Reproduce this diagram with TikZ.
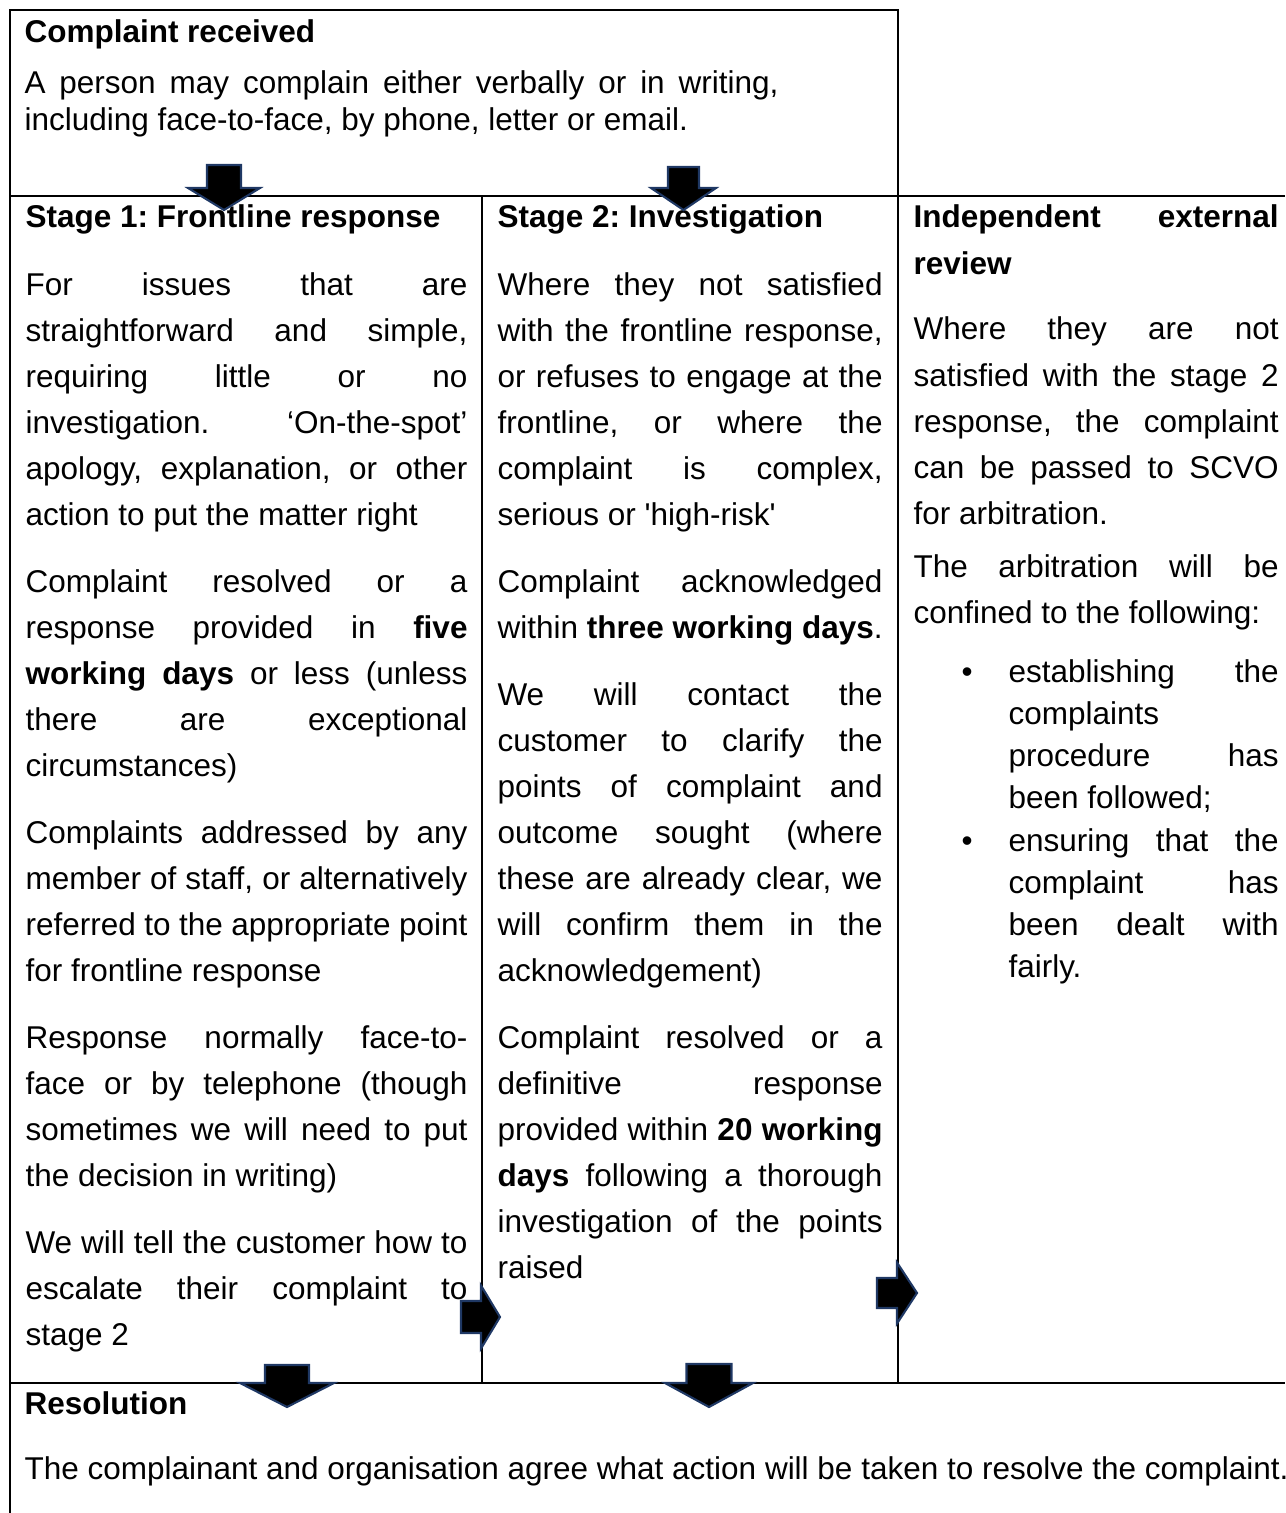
\documentclass[tikz,border=0pt]{standalone}
\usepackage{fontspec}
\setmainfont{Liberation Sans}
\frenchspacing
\tolerance=10000
\hbadness=10000
\hyphenpenalty=10000
\exhyphenpenalty=10000
\definecolor{arrowedge}{RGB}{31,56,100}
\newcommand{\paragap}{\par\vspace{8pt}}
\tikzset{
  gridline/.style={
    draw=black,
    line width=0.6pt
  },
  celltext/.style={
    anchor=base west,
    inner sep=0pt,
    align=justify,
    font=\fontsize{12}{17.53}\selectfont
  },
  listtext/.style={
    celltext,
    font=\fontsize{12}{16.12}\selectfont
  },
  blockarrow/.style={
    fill=black,
    draw=arrowedge,
    line width=0.8pt,
    line join=miter
  }
}

\begin{document}
\begin{tikzpicture}[x=0.381pt,y=-0.381pt]

  \useasboundingbox (0,0) rectangle (1285,1513);

  % Table rules: the first cell, the three stage cells and the last cell.
  \draw[gridline] (10,196) -- (10,10) -- (898,10) -- (898,196);
  \draw[gridline] (10,196) -- (1285,196);
  \draw[gridline] (10,196) -- (10,1513);
  \draw[gridline] (482,196) -- (482,1383);
  \draw[gridline] (898,196) -- (898,1383);
  \draw[gridline] (10,1383) -- (1285,1383);

  % First cell.
  \node[celltext] (received) at (24,43) {\textbf{Complaint received}};
  \node[celltext, text width=287.3pt, font=\fontsize{12}{14.1}\selectfont]
    (receivedtext) at (24,94)
    {A person may complain either verbally or in writing,\linebreak
     including face-to-face, by phone, letter or email.};

  % Stage 1 column.
  \node[celltext, text width=168.4pt] (stageone) at (25,228) {%
    \textbf{Stage 1: Frontline response}\paragap
    For issues that are\linebreak
    straightforward and simple,\linebreak
    requiring little or no\linebreak
    investigation. ‘On-the-spot’\linebreak
    apology, explanation, or other\linebreak
    action to put the matter right\paragap
    Complaint resolved or a\linebreak
    response provided in \textbf{five}\linebreak
    \textbf{working days} or less (unless\linebreak
    there are exceptional\linebreak
    circumstances)\paragap
    Complaints addressed by any\linebreak
    member of staff, or alternatively\linebreak
    referred to the appropriate point\linebreak
    for frontline response\paragap
    Response normally face-to-\linebreak
    face or by telephone (though\linebreak
    sometimes we will need to put\linebreak
    the decision in writing)\paragap
    We will tell the customer how to\linebreak
    escalate their complaint to\linebreak
    stage 2};

  % Stage 2 column.
  \node[celltext, text width=146.7pt] (stagetwo) at (497,228) {%
    \textbf{Stage 2: Investigation}\paragap
    Where they not satisfied\linebreak
    with the frontline response,\linebreak
    or refuses to engage at the\linebreak
    frontline, or where the\linebreak
    complaint is complex,\linebreak
    serious or \textquotesingle high-risk\textquotesingle\paragap
    Complaint acknowledged\linebreak
    within \textbf{three working days}.\paragap
    We will contact the\linebreak
    customer to clarify the\linebreak
    points of complaint and\linebreak
    outcome sought (where\linebreak
    these are already clear, we\linebreak
    will confirm them in the\linebreak
    acknowledgement)\paragap
    Complaint resolved or a\linebreak
    definitive response\linebreak
    provided within \textbf{20 working}\linebreak
    \textbf{days} following a thorough\linebreak
    investigation of the points\linebreak
    raised};

  % External review column.
  \node[celltext, text width=139.1pt] (reviewhead) at (913,228)
    {\textbf{Independent external\linebreak review}};
  \node[celltext, text width=139.1pt] (reviewwhere) at (913,340) {%
    Where they are not\linebreak
    satisfied with the stage 2\linebreak
    response, the complaint\linebreak
    can be passed to SCVO\linebreak
    for arbitration.};
  \node[celltext, text width=139.1pt] (reviewscope) at (913,577) {%
    The arbitration will be\linebreak
    confined to the following:};
  \node[celltext] (dotone) at (961,682) {\textbullet};
  \node[listtext, text width=102.9pt] (itemone) at (1008,682) {%
    establishing the\linebreak
    complaints\linebreak
    procedure has\linebreak
    been followed;};
  \node[celltext] (dottwo) at (961,851) {\textbullet};
  \node[listtext, text width=102.9pt] (itemtwo) at (1008,851) {%
    ensuring that the\linebreak
    complaint has\linebreak
    been dealt with\linebreak
    fairly.};

  % Last cell.
  \node[celltext] (resolution) at (24,1414) {\textbf{Resolution}};
  \node[celltext] (resolutiontext) at (24,1479)
    {The complainant and organisation agree what action will be taken to resolve the complaint.};

  % Block arrows, tip at (tx,ty), drawn over the rules and the text.
  \foreach \tx/\ty/\sw/\hw/\sl/\hl/\rot in {224/210/17/36/45/22/0,
      683.5/210/15.5/32.5/43/22/0, 287/1407/22/47/42/24/0,
      709/1407/22.5/44/43/24/0, 500/1317/16/31.5/39/19/90,
      917/1293/15/30.5/40/20/90}
    \draw[blockarrow, shift={(\tx,\ty)}, rotate=\rot]
      (0,0) -- (\hw,-\hl) -- (\sw,-\hl) -- (\sw,-\sl)
      -- (-\sw,-\sl) -- (-\sw,-\hl) -- (-\hw,-\hl) -- cycle;

\end{tikzpicture}
\end{document}
